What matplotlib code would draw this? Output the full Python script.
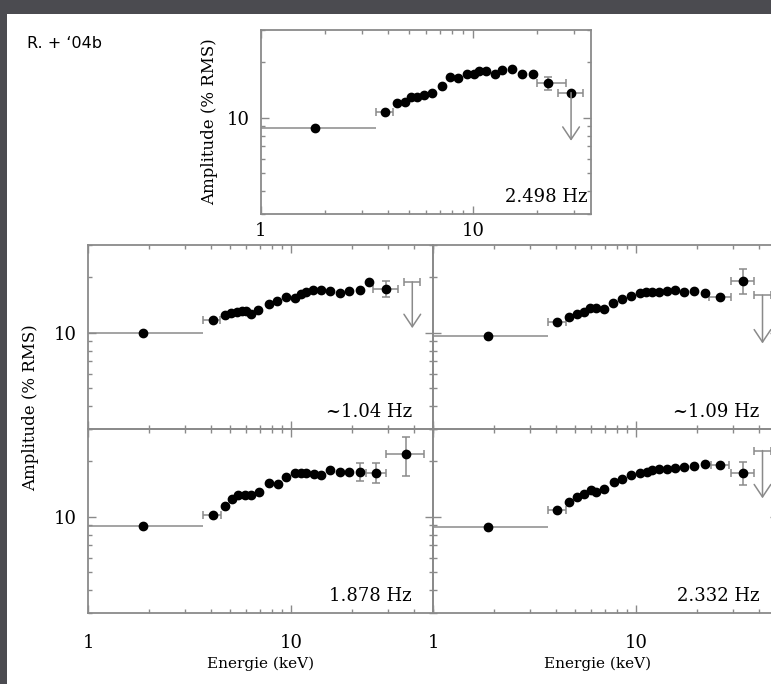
import matplotlib.pyplot as plt
from matplotlib.patches import Rectangle
from matplotlib.ticker import NullFormatter, LogLocator

W, H = 771, 684

# 2.498 Hz (haut)
e1 = [1.80, 3.84, 4.39, 4.77, 5.08, 5.45, 5.86, 6.41, 7.15, 7.83, 8.50, 9.37, 10.07, 10.67, 11.5, 12.65, 13.7, 15.2, 17.0, 19.2, 22.5]
a1 = [8.85, 10.8, 11.96, 12.2, 12.9, 12.9, 13.3, 13.6, 14.9, 16.6, 16.4, 17.3, 17.3, 18.0, 18.0, 17.3, 18.2, 18.3, 17.4, 17.4, 15.4]
bx1 = [1.80, 3.84, 22.5]
blo1 = [1.0, 3.49, 20.1]
bhi1 = [3.50, 4.20, 27.5]
by1 = [8.85, 10.8, 15.4]
bdy1 = [0, 0, 1.3]
# limite sup: x, y, xmin, xmax, bout de fleche, avec point
ul1 = [29.0, 13.7, 25.1, 32.9, 7.5, True]

# ~1.04 Hz
e2 = [1.85, 4.09, 4.70, 5.07, 5.40, 5.74, 5.96, 6.36, 6.85, 7.76, 8.53, 9.37, 10.4, 11.2, 11.75, 12.8, 14.0, 15.5, 17.3, 19.3, 21.7, 24.0, 29.3]
a2 = [10.0, 11.8, 12.5, 12.8, 13.0, 13.1, 13.15, 12.7, 13.3, 14.3, 14.9, 15.7, 15.4, 16.2, 16.6, 17.1, 17.0, 16.9, 16.5, 16.9, 17.1, 18.9, 17.3]
bx2 = [1.85, 4.09, 29.3]
blo2 = [1.0, 3.68, 25.2]
bhi2 = [3.68, 4.44, 33.4]
by2 = [10.0, 11.8, 17.3]
bdy2 = [0, 0, 1.7]
ul2 = [39.4, 18.9, 35.8, 42.9, 10.6, False]

# ~1.09 Hz
e3 = [1.85, 4.05, 4.67, 5.08, 5.51, 5.90, 6.36, 6.91, 7.68, 8.53, 9.37, 10.4, 11.2, 12.0, 12.9, 14.1, 15.5, 17.1, 19.2, 21.7, 25.9, 33.4]
a3 = [9.6, 11.4, 12.2, 12.6, 13.0, 13.6, 13.6, 13.4, 14.6, 15.3, 15.8, 16.5, 16.6, 16.6, 16.6, 16.9, 17.1, 16.6, 16.9, 16.5, 15.7, 19.2]
bx3 = [1.85, 4.05, 25.9, 33.4]
blo3 = [1.0, 3.68, 22.9, 29.3]
bhi3 = [3.68, 4.50, 29.3, 38.0]
by3 = [9.6, 11.4, 15.7, 19.2]
bdy3 = [0, 0, 0, 3.0]
ul3 = [41.8, 16.0, 38.0, 46.0, 8.75, False]

# 1.878 Hz
e4 = [1.85, 4.09, 4.70, 5.10, 5.46, 5.89, 6.36, 6.93, 7.76, 8.59, 9.37, 10.4, 11.2, 11.85, 12.9, 14.0, 15.5, 17.3, 19.2, 21.7, 26.2, 36.8]
a4 = [8.86, 10.25, 11.5, 12.5, 13.2, 13.2, 13.2, 13.7, 15.2, 15.1, 16.4, 17.3, 17.3, 17.4, 17.1, 16.9, 17.9, 17.5, 17.5, 17.6, 17.4, 21.9]
bx4 = [1.85, 4.09, 21.7, 26.2, 36.8]
blo4 = [1.0, 3.68, 21.7, 23.4, 29.1]
bhi4 = [3.68, 4.48, 21.7, 29.3, 44.8]
by4 = [8.86, 10.25, 17.6, 17.4, 21.9]
bdy4 = [0, 0, 1.9, 2.1, 5.2]
ul4 = None

# 2.332 Hz
e5 = [1.85, 4.05, 4.67, 5.08, 5.51, 5.95, 6.36, 6.91, 7.74, 8.53, 9.37, 10.4, 11.3, 12.0, 12.9, 14.1, 15.5, 17.1, 19.3, 21.9, 25.9, 33.4]
a5 = [8.79, 10.9, 12.1, 12.8, 13.3, 13.9, 13.7, 14.2, 15.4, 16.1, 16.9, 17.3, 17.6, 17.9, 18.2, 18.2, 18.4, 18.6, 18.8, 19.3, 19.2, 17.4]
bx5 = [1.85, 4.05, 25.9, 33.4]
blo5 = [1.0, 3.68, 23.4, 29.3]
bhi5 = [3.68, 4.50, 28.7, 38.0]
by5 = [8.79, 10.9, 19.2, 17.4]
bdy5 = [0, 0, 0, 2.5]
ul5 = [41.8, 22.9, 38.0, 46.0, 12.6, False]

noms = ["2.498 Hz", "~1.04 Hz", "~1.09 Hz", "1.878 Hz", "2.332 Hz"]

gris = "#8a8a8a"
serif = "DejaVu Serif"

fig = plt.figure(figsize=(W / 100, H / 100), dpi=100, facecolor="#4b4b50")
fig.add_artist(Rectangle((7 / W, 0), 1, 1 - 14 / H, transform=fig.transFigure,
                         facecolor="white", edgecolor="none", zorder=0))


def boite(x0, x1, y0, y1):
    # pixels -> fraction de figure
    return [x0 / W, 1 - y1 / H, (x1 - x0) / W, (y1 - y0) / H]


def panneau(rect, xmax, e, a, bx, blo, bhi, by, bdy, ul, nom, xtxt,
            xlab, ylab, xpad):
    ax = fig.add_axes(rect)
    ax.set_facecolor("none")
    ax.set_xscale("log")
    ax.set_yscale("log")
    ax.set_xlim(1, xmax)
    ax.set_ylim(3, 30)

    # barres d'erreur
    for i in range(len(bx)):
        xe = [[bx[i] - blo[i]], [bhi[i] - bx[i]]]
        ye = [[bdy[i]], [bdy[i]]] if bdy[i] > 0 else None
        ax.errorbar([bx[i]], [by[i]], xerr=xe, yerr=ye, fmt="none",
                    ecolor=gris, elinewidth=1.1,
                    capsize=3 if i > 0 else 0, capthick=1.1, zorder=2)
    ax.plot(e, a, "o", color="black", markersize=6, zorder=3)

    if ul is not None:
        x, y, lo, hi, fin, point = ul
        ax.errorbar([x], [y], xerr=[[x - lo], [hi - x]], fmt="none",
                    ecolor=gris, elinewidth=1.1, capsize=3, capthick=1.1)
        if point:
            ax.plot([x], [y], "o", color="black", markersize=6, zorder=3)
        ax.annotate("", xy=(x, fin), xytext=(x, y),
                    arrowprops=dict(arrowstyle="->,head_length=0.6,head_width=0.4",
                                    color=gris, lw=1.1, mutation_scale=15,
                                    shrinkA=0, shrinkB=0))

    ax.text(xtxt, 0.065, nom, transform=ax.transAxes, ha="right", va="baseline",
            fontsize=13, family=serif)

    ax.xaxis.set_major_locator(LogLocator(base=10))
    ax.xaxis.set_minor_locator(LogLocator(base=10, subs=range(2, 10)))
    ax.yaxis.set_major_locator(LogLocator(base=10))
    ax.yaxis.set_minor_locator(LogLocator(base=10, subs=range(2, 10)))
    ax.set_xticks([1, 10])
    ax.set_yticks([10])
    ax.set_xticklabels(["1", "10"] if xlab else ["", ""])
    ax.set_yticklabels(["10"] if ylab else [""])
    ax.xaxis.set_minor_formatter(NullFormatter())
    ax.yaxis.set_minor_formatter(NullFormatter())
    ax.tick_params(which="both", direction="in", top=True, right=True,
                   color=gris, labelsize=13)
    ax.tick_params(which="major", length=6, width=1)
    ax.tick_params(which="minor", length=3, width=1)
    ax.tick_params(axis="x", pad=xpad)
    ax.tick_params(axis="y", pad=8)
    for lab in ax.get_xticklabels() + ax.get_yticklabels():
        lab.set_family(serif)
    for s in ax.spines.values():
        s.set_color(gris)
        s.set_linewidth(1.3)
    return ax


ax1 = panneau(boite(260.7, 591, 30, 214), 36, e1, a1, bx1, blo1, bhi1, by1, bdy1,
              ul1, noms[0], 0.99, True, True, 6)
ax1.set_ylabel("Amplitude (% RMS)", family=serif, fontsize=12, labelpad=6)

ax2 = panneau(boite(88.3, 433.3, 245, 429), 50, e2, a2, bx2, blo2, bhi2, by2, bdy2,
              ul2, noms[1], 0.938, False, True, 15)
ax3 = panneau(boite(433.3, 778.3, 245, 429), 50, e3, a3, bx3, blo3, bhi3, by3, bdy3,
              ul3, noms[2], 0.945, False, False, 15)
ax4 = panneau(boite(88.3, 433.3, 429, 613), 50, e4, a4, bx4, blo4, bhi4, by4, bdy4,
              ul4, noms[3], 0.938, True, True, 15)
ax5 = panneau(boite(433.3, 778.3, 429, 613), 50, e5, a5, bx5, blo5, bhi5, by5, bdy5,
              ul5, noms[4], 0.945, True, False, 15)

for ax, xc in [(ax4, 0.5), (ax5, (598 - 433.3) / 345)]:
    ax.set_xlabel("Energie (keV)", family=serif, fontsize=11)
    ax.xaxis.set_label_coords(xc, -0.235)

fig.text(31 / W, 1 - 408 / H, "Amplitude (% RMS)", rotation=90, ha="center",
         va="center", family=serif, fontsize=12)

fig.text(27 / W, 1 - 43 / H, "R. + \u201804b", ha="left", va="center",
         fontsize=11.5, family="DejaVu Sans")

fig.savefig("out.png", dpi=100, facecolor=fig.get_facecolor())
